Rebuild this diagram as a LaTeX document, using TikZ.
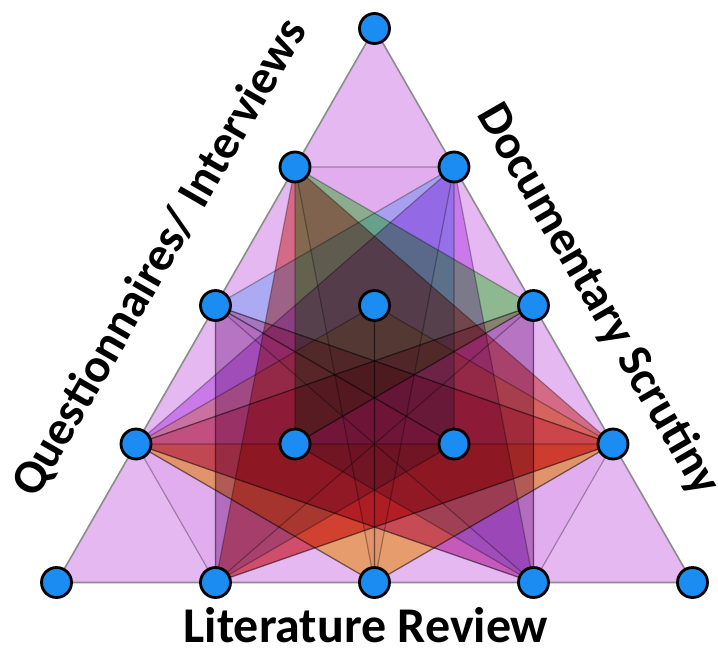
\documentclass[tikz,border=0pt]{standalone}
\usepackage{fontspec}
\setmainfont{Carlito}
\usepackage{tikz}
\usetikzlibrary{calc}
\definecolor{dotblue}{HTML}{1A8CF2}
\definecolor{lilac}{HTML}{E6B8F2}
\definecolor{triPink}{RGB}{245,90,130}
\definecolor{triRed}{RGB}{215,30,20}
\definecolor{triPurple}{RGB}{181,51,232}
\definecolor{triGreen}{RGB}{40,255,28}
\definecolor{triSky}{RGB}{96,210,255}
\definecolor{triBlue}{RGB}{128,160,255}
\definecolor{triYellow}{RGB}{255,223,64}
\definecolor{triOrange}{RGB}{255,198,57}
\tikzset{
  tri/base/.style={draw=black, draw opacity=0.3, line width=1.2pt, line join=round},
  tri/big/.style={draw=black!45, line width=1.6pt, fill=lilac, line join=round},
  tri/lilac/.style={tri/base, fill=lilac, fill opacity=0.2},
  tri/pink/.style={tri/base, fill=triPink, fill opacity=0.4},
  tri/red/.style={tri/base, fill=triRed, fill opacity=0.48},
  tri/purple/.style={tri/base, fill=triPurple, fill opacity=0.42},
  tri/green/.style={tri/base, fill=triGreen, fill opacity=0.45},
  tri/sky/.style={tri/base, fill=triSky, fill opacity=0.4},
  tri/blue/.style={tri/base, fill=triBlue, fill opacity=0.38},
  tri/yellow/.style={tri/base, fill=triYellow, fill opacity=0.4},
  tri/orange/.style={tri/base, fill=triOrange, fill opacity=0.45},
  dot/.style={circle, draw=black, line width=2.8pt, fill=dotblue, minimum size=30pt, inner sep=0pt},
  side/.style={font=\bfseries\fontsize{48}{52}\selectfont, inner sep=0pt}
}
\newcommand{\trig}[4]{\filldraw[tri/#1] (#2) -- (#3) -- (#4) -- cycle;}

\begin{document}
\begin{tikzpicture}[x=1pt,y=-1pt]
\useasboundingbox (0,0) rectangle (718,654);
% lattice points, row by row from the top
\foreach \row in {0,...,4}{
  \foreach \col in {0,...,\row}{
    \coordinate (p\row\col) at ({374.5+159*\col-79.5*\row},{28.5+138.5*\row});
  }
}
\filldraw[tri/big] (p00) -- (p40) -- (p44) -- cycle;
\begin{scope}[blend mode=multiply]
% corner cuts
\trig{lilac}{p10}{p11}{p42}
\trig{lilac}{p41}{p30}{p22}
\trig{lilac}{p33}{p43}{p20}
% long triangles
\trig{pink}{p30}{p22}{p43}
\trig{pink}{p33}{p20}{p41}
\trig{red}{p10}{p41}{p33}
\trig{purple}{p11}{p30}{p43}
\trig{orange}{p30}{p33}{p42}
% inner triangles
\trig{blue}{p41}{p32}{p20}
\trig{blue}{p43}{p31}{p22}
\trig{yellow}{p33}{p21}{p42}
\trig{yellow}{p30}{p21}{p42}
\trig{green}{p10}{p31}{p22}
\trig{sky}{p11}{p32}{p20}
\end{scope}
% dots
\foreach \row in {0,...,4}{
  \foreach \col in {0,...,\row}{
    \node[dot] (d\row\col) at (p\row\col) {};
  }
}
\node[side, rotate=60] (qi) at (160,258) {Questionnaires/ Interviews};
\node[side, rotate=-60] (ds) at (598,300) {Documentary Scrutiny};
\node[side, font=\bfseries\fontsize{50}{54}\selectfont] (lr) at (366,625) {Literature Review};
\end{tikzpicture}
\end{document}
